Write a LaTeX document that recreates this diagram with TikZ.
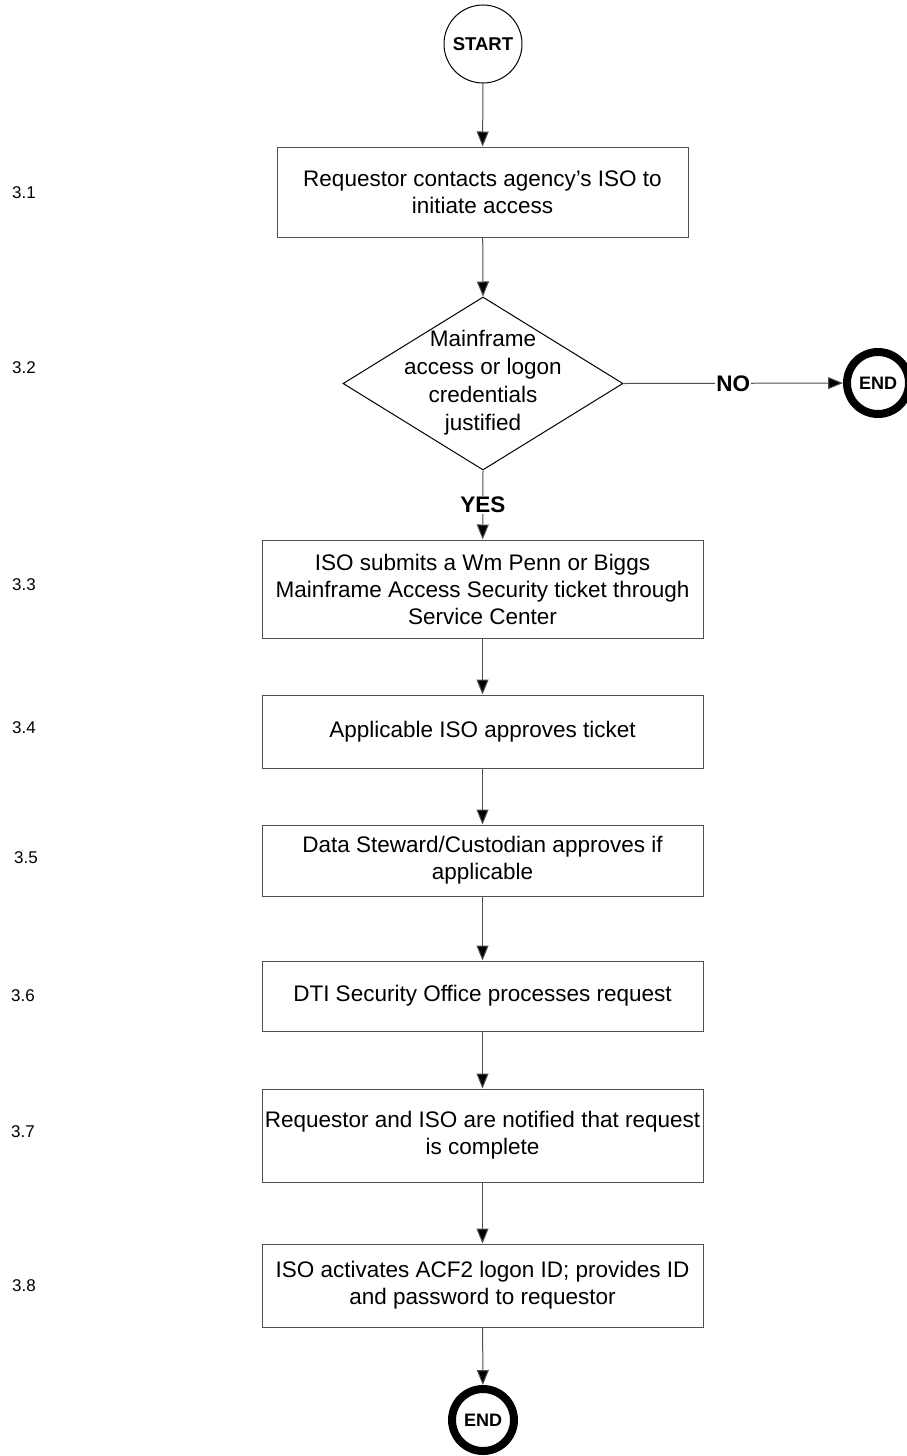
\documentclass[tikz,border=0pt]{standalone}
\usepackage{fontspec}
\setmainfont{Liberation Sans}
\usetikzlibrary{shapes.geometric,arrows.meta}
\definecolor{linegray}{HTML}{505050}
\tikzset{
  stepbox/.style={draw=linegray, line width=1pt, rectangle, align=center,
    inner sep=2pt, font=\fontsize{22.5}{27}\selectfont},
  terminal/.style={circle, draw=black, line width=1pt, minimum size=78pt,
    inner sep=0pt, font=\bfseries\fontsize{18.5}{20}\selectfont},
  endring/.style={circle, draw=black, line width=8pt, minimum size=62pt,
    inner sep=0pt, font=\bfseries\fontsize{18}{20}\selectfont},
  flow/.style={draw=linegray, line width=1pt, -{Triangle[length=15pt,width=12pt,fill=black]}},
  branch/.style={fill=white, inner sep=1pt, font=\bfseries\fontsize{22.5}{24}\selectfont},
  stepno/.style={anchor=west, inner sep=0pt, font=\fontsize{17}{18}\selectfont}
}
\begin{document}
\begin{tikzpicture}[x=1pt,y=-1pt]
\useasboundingbox (0,0) rectangle (906,1456);

% start terminal
\node[terminal] (start) at (483,44) {START};

% process steps
\node[stepbox, minimum width=411pt, minimum height=90pt] (s1) at (482.5,192)
  {Requestor contacts agency’s ISO to\\initiate access};

\node[diamond, draw=black, line width=1pt, minimum width=280pt, minimum height=173pt,
  inner sep=0pt] (s2) at (483,383.5) {};
\node[align=center, font=\fontsize{22.5}{28}\selectfont] (s2text) at (483,383)
  {Mainframe\\access or logon\\credentials\\justified};

\node[stepbox, minimum width=441pt, minimum height=98pt] (s3) at (482.5,589)
  {ISO submits a Wm Penn or Biggs\\Mainframe Access Security ticket through\\Service Center};
\node[stepbox, minimum width=441pt, minimum height=73pt] (s4) at (482.5,731.5)
  {Applicable ISO approves ticket};
\node[stepbox, minimum width=441pt, minimum height=71pt] (s5) at (482.5,860.5)
  {Data Steward/Custodian approves if\\applicable};
\node[stepbox, minimum width=441pt, minimum height=70pt] (s6) at (482.5,996)
  {DTI Security Office processes request};
\node[stepbox, minimum width=441pt, minimum height=93pt] (s7) at (482.5,1135.5)
  {Requestor and ISO are notified that request\\is complete};
\node[stepbox, minimum width=441pt, minimum height=83pt] (s8) at (482.5,1285.5)
  {ISO activates ACF2 logon ID; provides ID\\and password to requestor};

% end terminals
\node[endring] (endno) at (878,383) {END};
\node[endring] (endok) at (483,1420) {END};

% step numbers
\node[stepno] (n1) at (12,193) {3.1};
\node[stepno] (n2) at (12,368) {3.2};
\node[stepno] (n3) at (12,585) {3.3};
\node[stepno] (n4) at (12,728) {3.4};
\node[stepno] (n5) at (14,858) {3.5};
\node[stepno] (n6) at (11,996) {3.6};
\node[stepno] (n7) at (11,1132) {3.7};
\node[stepno] (n8) at (12,1286) {3.8};

% connectors
\draw[flow] (start) -- (s1);
\draw[flow] (s1) -- (s2.north);
\draw[flow] (s2.south) -- node[branch] (yes) {YES} (s3);
\draw[flow] (s2.east) -- node[branch, pos=0.5] (no) {NO} (endno);
\draw[flow] (s3) -- (s4);
\draw[flow] (s4) -- (s5);
\draw[flow] (s5) -- (s6);
\draw[flow] (s6) -- (s7);
\draw[flow] (s7) -- (s8);
\draw[flow] (s8) -- (endok);
\end{tikzpicture}
\end{document}
